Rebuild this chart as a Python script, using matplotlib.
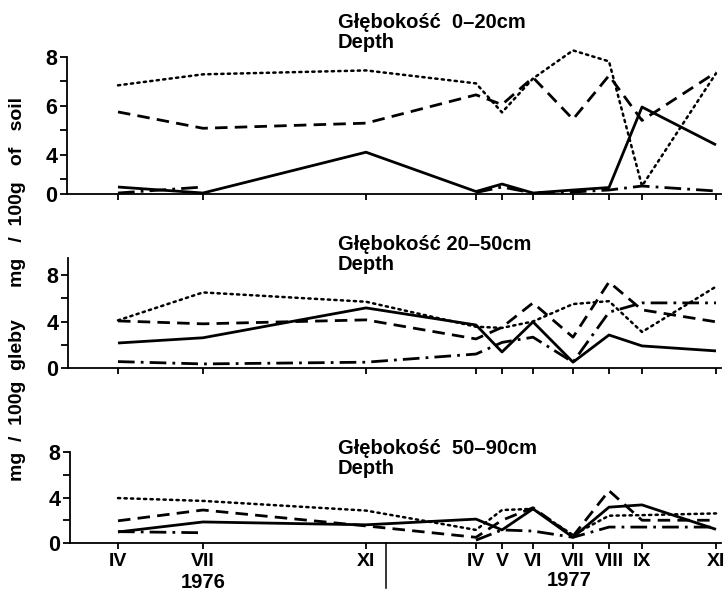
import numpy as np
import matplotlib
matplotlib.use("Agg")
import matplotlib.pyplot as plt
from matplotlib.lines import Line2D

plt.rcParams['font.family'] = ['Liberation Sans', 'DejaVu Sans']
plt.rcParams['font.weight'] = 'bold'

nan = np.nan

# sampling times: months since April 1976
months = [0, 3, 7, 12, 13, 14, 15, 16, 17, 19]
month_labels = ['IV', 'VII', 'XI', 'IV', 'V', 'VI', 'VII', 'VIII', 'IX', 'XI']
years = ['1976', '1977']

titles = ['Głębokość  0–20cm\nDepth', 'Głębokość 20–50cm\nDepth', 'Głębokość  50–90cm\nDepth']

# Depth 0-20 cm
top_solid = [1.4, 0.2, 4.1, 0.5, 2.0, 0.2, 0.8, 1.3, 5.95, 4.4]
top_dashed = [5.75, 5.08, 5.29, 6.45, 6.05, 7.16, 5.45, 7.24, 5.4, 7.37]
top_dotted = [6.84, 7.29, 7.45, 6.92, 5.73, 7.12, 8.27, 7.82, 1.6, 7.33]
top_dashdot = [0.2, 1.4, nan, 0.3, 1.4, 0.2, 0.4, 0.8, 1.6, 0.6]

# Depth 20-50 cm
mid_solid = [2.15, 2.6, 5.17, 3.7, 1.38, 3.97, 0.5, 2.84, 1.9, 1.47]
mid_dashed = [4.05, 3.8, 4.14, 2.5, 3.5, 5.6, 2.65, 7.4, 5.0, 3.97]
mid_dotted = [4.1, 6.5, 5.7, 3.55, 3.45, 4.0, 5.5, 5.75, 3.1, 7.0]
mid_dashdot = [0.55, 0.35, 0.5, 1.2, 2.2, 2.65, 0.5, 4.8, 5.6, 5.6]

# Depth 50-90 cm
bot_solid = [0.97, 1.85, 1.6, 2.1, 1.15, 3.0, 0.5, 3.15, 3.35, 1.2]
bot_dashed = [1.95, 2.9, 1.5, 0.5, 2.0, 3.1, 0.6, 4.6, 2.0, 2.0]
bot_dotted = [3.95, 3.7, 2.85, 1.15, 2.9, 3.0, 0.7, 2.4, 2.45, 2.6]
bot_dashdot = [1.0, 0.9, nan, 0.25, 1.15, 1.05, 0.5, 1.4, 1.4, 1.4]

W, H = 726, 591
fig = plt.figure(figsize=(W / 100, H / 100), dpi=100)

# non-linear time axis as drawn in the original (month -> pixel)
XB_M = [-3, 0, 3, 7, 12, 13, 14, 15, 16, 17, 19, 21]
XB_P = [33, 118, 203, 366, 476, 502, 533, 573, 609, 642, 716, 789]


def xf(x):
    return np.interp(np.asarray(x, float), XB_M, XB_P)


def xi(u):
    return np.interp(np.asarray(u, float), XB_P, XB_M)


# top panel: compressed bottom part of the axis (0..3)
K = 5 / 24.5


def yf(v):
    v = np.asarray(v, float)
    return np.where(v <= 3, v * K, 3 * K + (v - 3))


def yi(u):
    u = np.asarray(u, float)
    return np.where(u <= 3 * K, u / K, u - 3 * K + 3)


styles = [
    dict(linestyle='-', lw=2.0),
    dict(linestyle=(0, (4.5, 2.6)), lw=2.0),
    dict(linestyle=(0, (0.9, 1.7)), lw=1.8, dash_capstyle='round'),
    dict(linestyle=(0, (6, 2.2, 1, 2.2)), lw=2.0),
]

panels = [
    dict(left=67, top=57, bottom=194, ymax=8, data=[top_solid, top_dashed, top_dotted, top_dashdot],
         major=[0, 4, 6, 8], minor=[3, 5, 7], warp=True, title=titles[0], ty=(23, 43)),
    dict(left=68, top=258, bottom=368, ymax=(368 - 258) / 11.625,
         data=[mid_solid, mid_dashed, mid_dotted, mid_dashdot],
         major=[0, 4, 8], minor=[2, 6], warp=False, title=titles[1], ty=(245, 265)),
    dict(left=70, top=452, bottom=543, ymax=8, data=[bot_solid, bot_dashed, bot_dotted, bot_dashdot],
         major=[0, 4, 8], minor=[2, 6], warp=False, title=titles[2], ty=(448, 468)),
]

RIGHT = 721
axes = []
for i, p in enumerate(panels):
    ax = fig.add_axes([p['left'] / W, 1 - p['bottom'] / H, (RIGHT - p['left']) / W,
                       (p['bottom'] - p['top']) / H])
    ax.set_xscale('function', functions=(xf, xi))
    if p['warp']:
        ax.set_yscale('function', functions=(yf, yi))
    for series, st in zip(p['data'], styles):
        ax.plot(months, series, color='black', solid_capstyle='butt', clip_on=False, **st)
    ax.set_xlim(float(xi(p['left'])), float(xi(RIGHT)))
    ax.set_ylim(0, p['ymax'])
    ax.set_yticks(p['major'])
    ax.set_yticklabels([str(v) for v in p['major']])
    ax.set_yticks(p['minor'], minor=True)
    ax.set_xticks(months)
    ax.set_xticks([], minor=True)
    if i == 2:
        ax.set_xticklabels(month_labels)
    else:
        ax.set_xticklabels([])
    for s in ['top', 'right']:
        ax.spines[s].set_visible(False)
    for s in ['left', 'bottom']:
        ax.spines[s].set_linewidth(1.3)
    ax.tick_params(axis='y', which='both', direction='out', length=5, width=1.3,
                   labelsize=15.5, pad=2)
    ax.tick_params(axis='x', which='major', direction='out', length=4.5, width=1.3,
                   labelsize=14, pad=2.5)
    ax.patch.set_visible(False)
    t1, t2 = p['title'].split('\n')
    fig.text(338 / W, 1 - p['ty'][0] / H, t1, fontsize=14.5, fontweight='bold',
             ha='left', va='center')
    fig.text(338 / W, 1 - p['ty'][1] / H, t2, fontsize=14.5, fontweight='bold',
             ha='left', va='center')
    axes.append(ax)

# year labels and divider
fig.text(203 / W, 1 - 582 / H, years[0], fontsize=14.5, fontweight='bold', ha='center', va='center')
fig.text(569 / W, 1 - 580 / H, years[1], fontsize=14.5, fontweight='bold', ha='center', va='center')
fig.add_artist(Line2D([386 / W, 386 / W], [1 - 543 / H, 1 - 588 / H], color='black', lw=1.1))

# y-axis labels
fig.text(18 / W, 1 - 192 / H, 'mg   /  100g   of   soil', rotation=90, fontsize=14,
         fontweight='bold', ha='center', va='center')
fig.text(18 / W, 1 - 400 / H, 'mg  /  100g  gleby', rotation=90, fontsize=14,
         fontweight='bold', ha='center', va='center')

fig.savefig('out.png', dpi=100)
